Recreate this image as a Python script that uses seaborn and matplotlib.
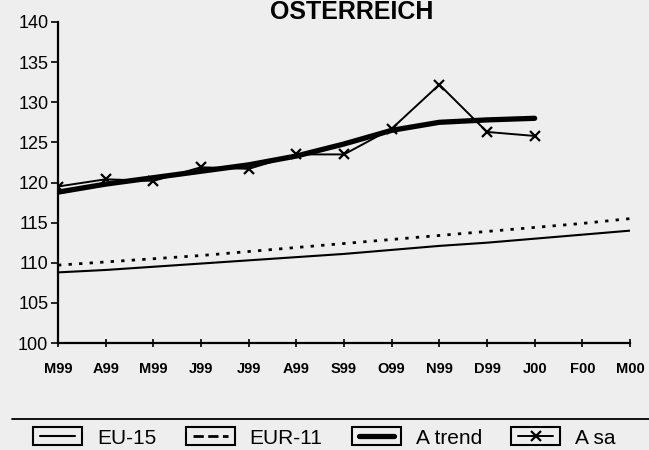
import numpy as np
import pandas as pd
import matplotlib
matplotlib.use("Agg")
import matplotlib.pyplot as plt
from matplotlib.legend_handler import HandlerBase
from matplotlib.patches import Rectangle
from matplotlib.lines import Line2D
import seaborn as sns

# Monthly labels, March 1999 to March 2000
months = ["M99", "A99", "M99", "J99", "J99", "A99", "S99", "O99", "N99", "D99", "J00", "F00", "M00"]

eu15 = [108.8, 109.1, 109.5, 109.9, 110.3, 110.7, 111.1, 111.6, 112.1, 112.5, 113.0, 113.5, 114.0]
eur11 = [109.7, 110.1, 110.5, 110.9, 111.4, 111.9, 112.4, 112.9, 113.4, 113.9, 114.4, 114.9, 115.5]
a_trend = [118.8, 119.8, 120.6, 121.4, 122.2, 123.3, 124.8, 126.5, 127.5, 127.8, 128.0]
a_sa = [119.5, 120.4, 120.2, 121.9, 121.7, 123.5, 123.5, 126.7, 132.2, 126.3, 125.8]

series_names = ["EU-15", "EUR-11", "A trend", "A sa"]

sns.set_theme(style="white")
plt.rcParams["font.family"] = ["Liberation Sans", "DejaVu Sans"]
plt.rcParams.update({"text.color": "black", "xtick.color": "black",
                     "ytick.color": "black", "axes.labelcolor": "black"})

bg = "#eeeeee"
fig = plt.figure(figsize=(6.49, 4.5), dpi=100, facecolor=bg)
ax = fig.add_axes([58 / 649, 1 - 343 / 450, (630 - 58) / 649, (343 - 22) / 450])
ax.set_facecolor(bg)

x_full = np.arange(len(months))
x_part = np.arange(len(a_trend))

sns.lineplot(x=x_full, y=eu15, ax=ax, color="black", lw=1.5, label=series_names[0])
sns.lineplot(x=x_full, y=eur11, ax=ax, color="black", lw=2.0,
             linestyle=(0, (1.2, 2.6)), label=series_names[1])
sns.lineplot(x=x_part, y=a_trend, ax=ax, color="black", lw=3.8,
             solid_capstyle="round", label=series_names[2])
sns.lineplot(x=x_part, y=a_sa, ax=ax, color="black", lw=1.4, marker="x",
             markersize=7, markeredgewidth=1.6, markeredgecolor="black",
             label=series_names[3])

ax.set_xlim(0, 12)
ax.set_ylim(100, 140)
ax.set_yticks(np.arange(100, 141, 5))
ax.set_xticks(x_full)
ax.set_xticklabels(months, fontsize=10.5, fontweight="bold")
ax.tick_params(axis="y", labelsize=13, direction="out", length=5, width=1.2,
               color="black", labelcolor="black", pad=2, left=True)
ax.tick_params(axis="x", direction="inout", length=6, width=1.2, color="black",
               labelcolor="black", pad=11, bottom=True)
ax.set_xlabel("")
ax.set_ylabel("")
for side in ["top", "right"]:
    ax.spines[side].set_visible(False)
for side in ["left", "bottom"]:
    ax.spines[side].set_color("black")
    ax.spines[side].set_linewidth(1.6)
ax.get_legend().remove()

fig.text(352 / 649, 1 - 19 / 450, "OSTERREICH", ha="center", va="baseline",
         fontsize=18, fontweight="bold", color="black")

# Separator above the legend
fig.add_artist(Line2D([12 / 649, 1.0], [1 - 419 / 450] * 2, color="black", lw=1.3,
                      transform=fig.transFigure))


class BoxedLineHandler(HandlerBase):
    """Legend key drawn as a framed box holding a short copy of the line."""

    def create_artists(self, legend, orig_handle, xdescent, ydescent, width,
                       height, fontsize, trans):
        box_h = height * 1.25
        y0 = -ydescent + (height - box_h) / 2
        rect = Rectangle((-xdescent, y0), width, box_h, fill=False,
                         ec="black", lw=1.5, transform=trans)
        ymid = y0 + box_h / 2
        pad = width * 0.14
        line = Line2D([-xdescent + pad, -xdescent + width - pad], [ymid, ymid],
                      color="black", lw=orig_handle.get_linewidth(),
                      linestyle=orig_handle.get_linestyle(), transform=trans)
        artists = [rect, line]
        if orig_handle.get_marker() not in (None, "None", ""):
            mk = Line2D([-xdescent + width / 2], [ymid], marker=orig_handle.get_marker(),
                        markersize=orig_handle.get_markersize(),
                        markeredgewidth=orig_handle.get_markeredgewidth(),
                        color="black", linestyle="none", transform=trans)
            artists.append(mk)
        return artists


handles = ax.get_lines()[:4]
handler = BoxedLineHandler()
leg = fig.legend(handles, series_names, loc="center left",
                 bbox_to_anchor=(25 / 649, 1 - 438 / 450), ncol=4, frameon=False,
                 fontsize=15, handlelength=2.35, handleheight=0.7,
                 handletextpad=0.72, columnspacing=1.4, borderaxespad=0,
                 labelcolor="black",
                 handler_map={h: handler for h in handles})

fig.savefig("out.png", dpi=100, facecolor=bg)
